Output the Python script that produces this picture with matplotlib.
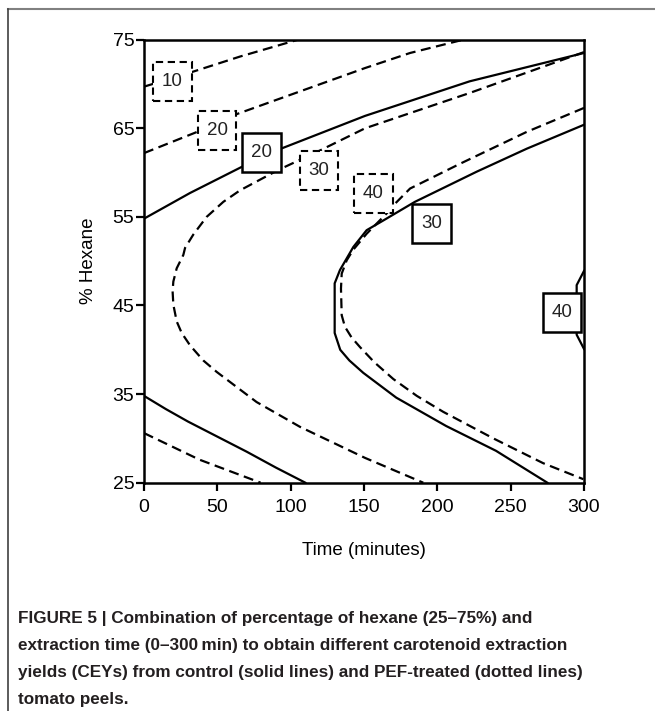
import numpy as np
import matplotlib
matplotlib.use("Agg")
import matplotlib.pyplot as plt
from matplotlib.patches import Rectangle
from matplotlib.lines import Line2D

plt.rcParams['font.family'] = ['Liberation Sans', 'DejaVu Sans']

# control peels (solid lines): time (min), hexane (%)
ctrl_upper_t = [0, 31.4, 67.3, 93.4, 150.7, 222, 300]
ctrl_upper_h = [54.8, 57.7, 60.7, 62.7, 66.4, 70.3, 73.5]
ctrl_lower_t = [0, 15, 30, 50, 70, 90, 110]
ctrl_lower_h = [34.8, 33.3, 31.9, 30.2, 28.5, 26.7, 25.0]
ctrl_c30_t = [300, 261, 226.8, 184.7, 163.2, 151.8, 142.7, 133.6, 130.0, 130.0,
              133.8, 140, 149.5, 172, 206, 240, 275.0]
ctrl_c30_h = [65.4, 62.7, 60.1, 56.7, 54.6, 53.5, 51.6, 49.0, 47.5, 41.9,
              40.0, 38.8, 37.4, 34.6, 31.4, 28.6, 25.0]
ctrl_c40_t = [300, 295, 295, 300]
ctrl_c40_h = [48.9, 47.3, 41.7, 40.1]

# PEF-treated peels (dashed lines)
pef_10_t = [0, 33.6, 65.5, 105]
pef_10_h = [69.7, 71.4, 73.1, 75.0]
pef_20_t = [0, 34.8, 63.2, 150.7, 181.4, 217.7]
pef_20_h = [62.2, 64.5, 66.6, 71.8, 73.5, 75.0]
pef_lower_t = [0, 37.8, 79.5]
pef_lower_h = [30.6, 27.6, 25.0]
pef_c30_t = [300, 222.3, 150.7, 120, 91.6, 79.1, 65.5, 54.1, 42.7, 33.6, 28, 26.8,
             22.3, 20.0, 19.5, 20.0, 22.3, 25.7, 31.4, 40.4, 49.6, 76.8, 106.4,
             150.7, 190.4]
pef_c30_h = [73.6, 69.0, 65.0, 62.5, 60.3, 59.2, 58.0, 56.7, 55.0, 53.0, 51.5, 50.7,
             49.2, 47.7, 46.6, 45.1, 43.2, 41.9, 40.5, 38.8, 37.5, 34.1, 31.3,
             27.8, 25.0]
pef_c40_t = [300, 261, 215.5, 181.4, 170, 165.5, 151.8, 142.7, 138.2, 134.8, 134.3,
             134.8, 137, 141.5, 147.3, 157, 170, 186, 204, 238.2, 272.2, 299.5]
pef_c40_h = [67.3, 64.6, 61.0, 58.2, 56.3, 55.4, 53.1, 51.3, 50.1, 48.6, 46.9,
             43.9, 42.6, 41.4, 40.3, 38.6, 36.7, 34.8, 33.0, 30.0, 27.2, 25.4]

# contour labels: text, time, hexane, solid?
label_txt = ['10', '20', '20', '30', '40', '30', '40']
label_t = [19.4, 49.8, 80.4, 119.3, 156.5, 196.3, 285.0]
label_h = [70.3, 64.8, 62.3, 60.2, 57.6, 54.3, 44.2]
label_solid = [False, False, True, False, False, True, True]

x_ticks = [0, 50, 100, 150, 200, 250, 300]
y_ticks = [25, 35, 45, 55, 65, 75]

caption = ("FIGURE 5 | Combination of percentage of hexane (25\u201375%) and\n"
           "extraction time (0\u2013300\u2009min) to obtain different carotenoid extraction\n"
           "yields (CEYs) from control (solid lines) and PEF-treated (dotted lines)\n"
           "tomato peels.")

fig = plt.figure(figsize=(6.55, 7.11), dpi=100)
ax = fig.add_axes([144 / 655, 1 - 482.7 / 711, 440 / 655, 443 / 711])

dash = (0, (4.5, 2.5))
lw = 1.6
for t, h in [(ctrl_upper_t, ctrl_upper_h), (ctrl_lower_t, ctrl_lower_h),
             (ctrl_c30_t, ctrl_c30_h), (ctrl_c40_t, ctrl_c40_h)]:
    ax.plot(t, h, color='black', lw=lw, solid_joinstyle='round')
for t, h in [(pef_10_t, pef_10_h), (pef_20_t, pef_20_h), (pef_lower_t, pef_lower_h),
             (pef_c30_t, pef_c30_h), (pef_c40_t, pef_c40_h)]:
    ax.plot(t, h, color='black', lw=lw, linestyle=dash)

# label boxes (fixed size ~39 px square)
bw, bh = 26.5, 4.4
for txt, t, h, solid in zip(label_txt, label_t, label_h, label_solid):
    ax.add_patch(Rectangle((t - bw / 2, h - bh / 2), bw, bh, facecolor='white',
                           edgecolor='black', lw=1.8 if solid else 1.5,
                           linestyle='-' if solid else (0, (3.5, 2.2)), zorder=5,
                           clip_on=False))
    ax.text(t, h, txt, ha='center', va='center', fontsize=13.5, color='#222222', zorder=6)

ax.set_xlim(0, 300)
ax.set_ylim(25, 75)
ax.set_xticks(x_ticks)
ax.set_yticks(y_ticks)
for s in ax.spines.values():
    s.set_linewidth(1.8)
ax.tick_params(length=5.5, width=1.6, labelsize=14, pad=1.5, colors='black')
ax.tick_params(axis='x', pad=6)
ax.set_xlabel('Time (minutes)', fontsize=13.5, labelpad=19)
ax.set_ylabel('% Hexane', fontsize=13.5, labelpad=11)

# frame lines of the figure panel
fig.add_artist(Line2D([8 / 655, 1], [1 - 9 / 711, 1 - 9 / 711], color='#808080', lw=1.5))
fig.add_artist(Line2D([8 / 655, 8 / 655], [0, 1 - 9 / 711], color='#404040', lw=1.2))

fig.text(18 / 655, 1 - 611 / 711, caption, ha='left', va='top', fontsize=12.3,
         fontweight='bold', color='#231f20', linespacing=2.0)

fig.savefig('out.png', dpi=100)
